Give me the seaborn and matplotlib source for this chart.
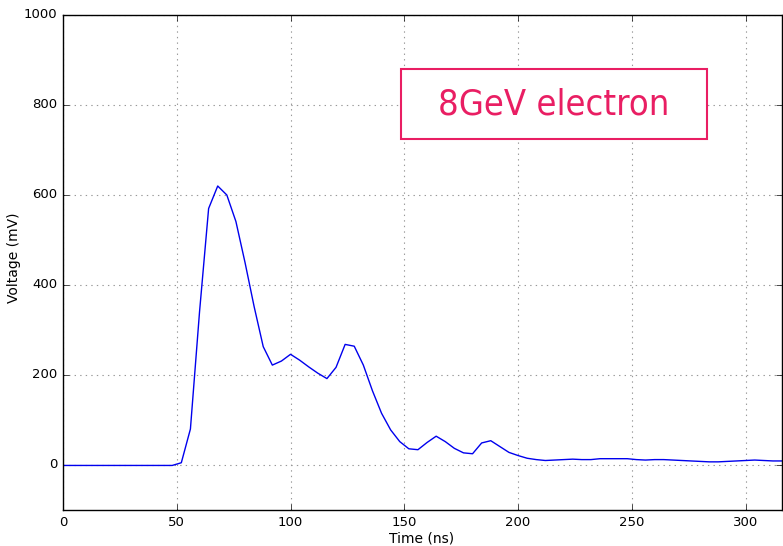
import matplotlib
matplotlib.use("Agg")
import matplotlib.pyplot as plt
from matplotlib.patches import Rectangle
import seaborn as sns
import numpy as np
import pandas as pd

time_ns = list(range(0, 320, 4))
voltage_mv = [
    -1, -1, -1, -1, -1, -1, -1, -1, -1, -1, -1, -1, -1,   # 0..48
    5, 80, 340, 570, 620, 600, 541, 450, 352, 263, 222,    # 52..92
    231, 246, 233, 218, 204, 192, 217, 268, 264, 222,      # 96..132
    165, 115, 78, 52, 36, 34, 50, 64, 52, 37, 27, 25,      # 136..180
    49, 54, 41, 28, 21, 15, 12, 10,                        # 184..212
    11, 12, 13, 12, 12, 14, 14, 14, 14, 12, 11, 12,        # 216..260
    12, 11, 10, 9, 8, 7, 7, 8, 9, 10, 11, 10, 9, 9,        # 264..316
]
x_ticks = [0, 50, 100, 150, 200, 250, 300]
y_ticks = [0, 200, 400, 600, 800, 1000]
label_text = "8GeV electron"

df = pd.DataFrame({"Time (ns)": time_ns, "Voltage (mV)": voltage_mv})

plt.style.use("classic")
plt.rcParams["font.family"] = ["DejaVu Sans"]

fig = plt.figure(figsize=(7.83, 5.46), dpi=100, facecolor="white")
ax = fig.add_axes([63 / 783, 1 - 510 / 546, 719 / 783, 495 / 546])

sns.lineplot(data=df, x="Time (ns)", y="Voltage (mV)", ax=ax,
             color="#0000ee", linewidth=1.0)

ax.set_xlim(0, 316)
ax.set_ylim(-100, 1000)
ax.set_xticks(x_ticks)
ax.set_yticks(y_ticks)
ax.tick_params(labelsize=9.5, direction="in")
ax.set_xlabel("Time (ns)", fontsize=10, va="center")
ax.set_ylabel("Voltage (mV)", fontsize=10, va="center")
ax.xaxis.set_label_coords((422 - 63) / 719, (510 - 538) / 495)
ax.yaxis.set_label_coords((14 - 63) / 719, (510 - 258) / 495)
ax.grid(True, linestyle=":", color="#999999", linewidth=0.8)
ax.set_axisbelow(True)

pink = "#e91e63"
ax.add_patch(Rectangle((148.7, 724), 134.2, 156, fill=True, facecolor="white",
                       edgecolor=pink, linewidth=1.5, zorder=5))
ax.text(215.8, 802, label_text, color=pink, fontsize=26, ha="center", va="center",
        family=["DejaVu Sans"], fontstretch="condensed", zorder=6)

fig.savefig("out.png", dpi=100, facecolor="white")
